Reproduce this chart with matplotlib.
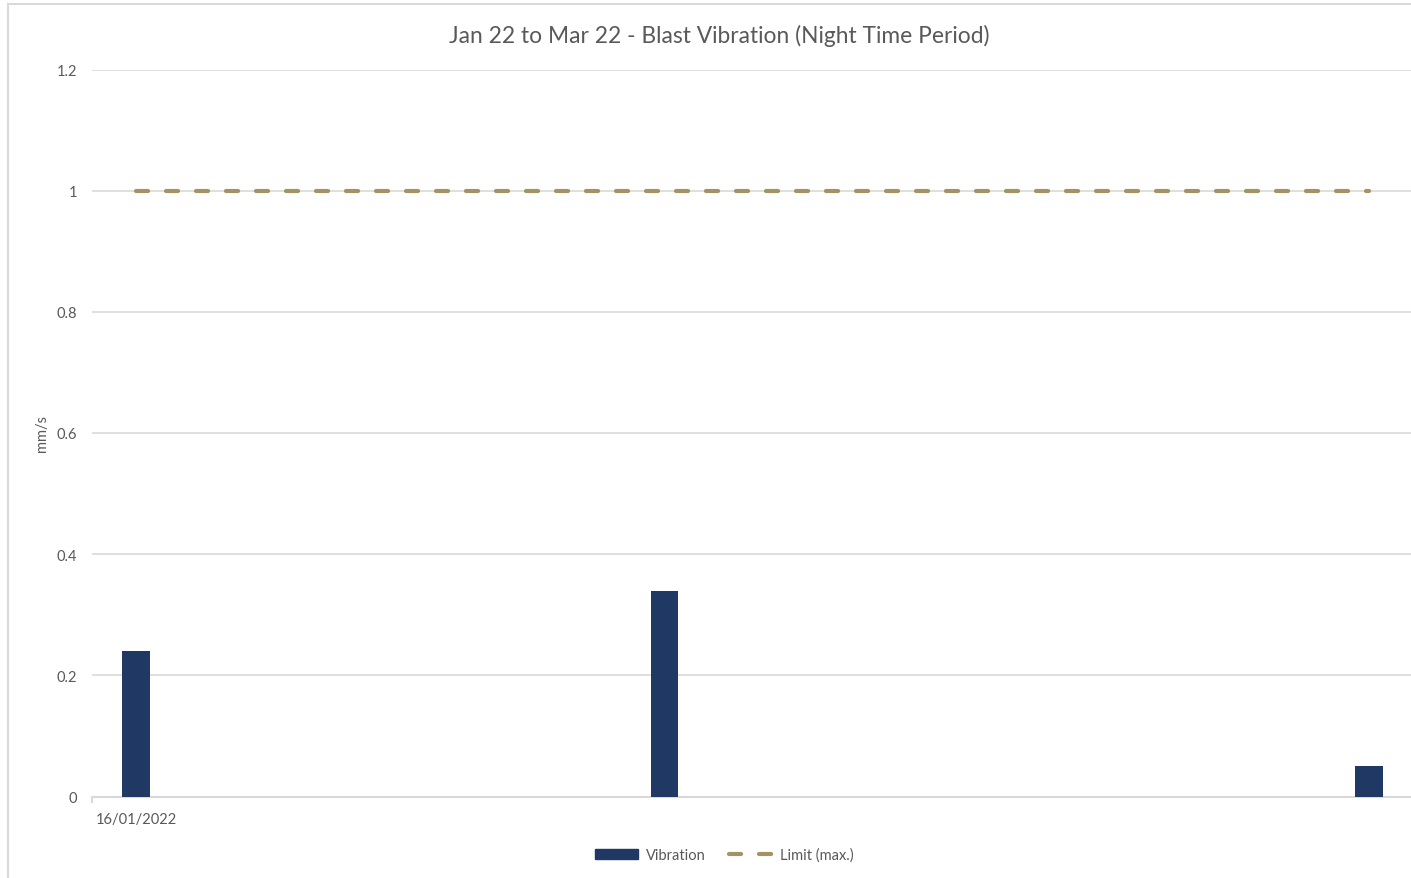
import matplotlib.pyplot as plt
from matplotlib.patches import Rectangle
from matplotlib.lines import Line2D

# chart data
categories = ["16/01/2022", "", "", "", "", "", "", "", "", "", "", "", "", "", ""]
bar_index = [0, 6, 14]
vibration = [0.24, 0.34, 0.05]
limit = [1.0] * len(categories)

navy = "#1F3864"
tan = "#A39262"
grey_txt = "#595959"
grid_col = "#D9D9D9"

plt.rcParams["font.family"] = ["Lato", "DejaVu Sans"]

fig = plt.figure(figsize=(14.11, 8.79), dpi=100)
W, H = 1411, 879
ax = fig.add_axes([92 / W, (H - 797.5) / H, 1321 / W, 727 / H])

# chart border
fig.patches.append(Rectangle((8 / W, -0.1), 1.2, (H - 5) / H + 0.1,
                             transform=fig.transFigure, fill=False,
                             edgecolor=grid_col, linewidth=1.5))

x = list(range(len(categories)))
ax.bar(bar_index, vibration, width=0.31, color=navy, zorder=3, label="Vibration")
ax.plot(x, limit, color=tan, linewidth=3.0, dashes=(2.9, 4.3),
        dash_capstyle="round", zorder=4, label="Limit (max.)")

ax.set_xlim(-0.5, len(categories) - 0.5)
ax.set_ylim(0, 1.2)
ax.set_yticks([0, 0.2, 0.4, 0.6, 0.8, 1, 1.2])
ax.set_yticklabels(["0", "0.2", "0.4", "0.6", "0.8", "1", "1.2"])
ax.set_xticks(x)
ax.set_xticklabels(categories)
ax.tick_params(axis="x", length=0, pad=11, labelsize=10.5, labelcolor=grey_txt)
ax.tick_params(axis="y", length=0, pad=10.5, labelsize=10.5, labelcolor=grey_txt)
ax.set_xticks([-0.5], minor=True)
ax.tick_params(axis="x", which="minor", length=4, color=grid_col, width=1.5)

ax.grid(axis="y", color=grid_col, linewidth=1.2, zorder=0)
for s in ["top", "right", "left"]:
    ax.spines[s].set_visible(False)
ax.spines["bottom"].set_color(grid_col)
ax.spines["bottom"].set_linewidth(1.5)
ax.set_axisbelow(True)

ax.set_ylabel("mm/s", fontsize=10.5, color=grey_txt)
ax.yaxis.set_label_coords((49 - 92) / 1321, 0.5)

fig.text(719 / W, 1 - 36 / H, "Jan 22 to Mar 22 - Blast Vibration (Night Time Period)",
         ha="center", va="center", fontsize=16.4, color=grey_txt)

handles = [Rectangle((0, 0), 1, 1, color=navy),
           Line2D([0], [0], color=tan, linewidth=3.0, dashes=(2.9, 4.3),
                  dash_capstyle="round")]
fig.legend(handles, ["Vibration", "Limit (max.)"], loc="center",
           bbox_to_anchor=(724 / W, 1 - 856 / H), ncol=2, frameon=False,
           fontsize=10.5, labelcolor=grey_txt, handlelength=3.0,
           handleheight=0.6, columnspacing=1.6, handletextpad=0.5)

fig.savefig("out.png", dpi=100)
